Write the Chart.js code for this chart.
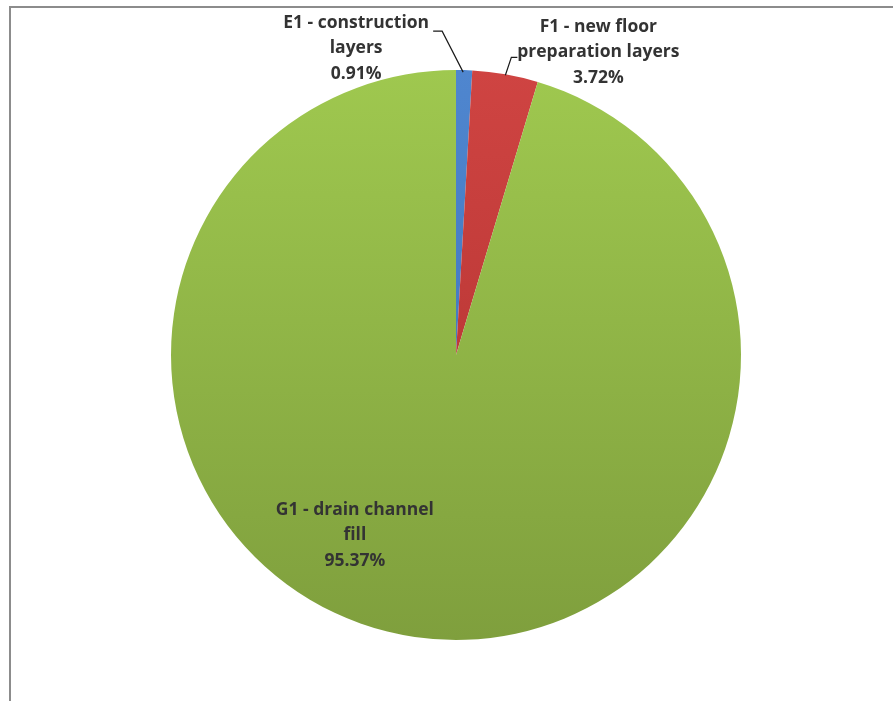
<!DOCTYPE html>
<html>
<head>
<meta charset="utf-8">
<script src="https://cdn.jsdelivr.net/npm/chart.js@4.4.1/dist/chart.umd.min.js"></script>
<style>
  body { margin: 0; background: #fff; }
  #frame {
    position: absolute; left: 9px; top: 6px; width: 884px; height: 695px;
    border-top: 2px solid #8c8c8c; border-left: 2px solid #8c8c8c;
  }
  #wrap { position: absolute; left: 0; top: 0; width: 893px; height: 701px; }
</style>
</head>
<body>
<div id="frame"></div>
<div id="wrap"><canvas id="pieChart" width="893" height="701"></canvas></div>
<script>
// data
const categories = ["E1 - construction layers", "F1 - new floor preparation layers", "G1 - drain channel fill"];
const percents = [0.91, 3.72, 95.37];
const labelLines = [
    ["E1 - construction", "layers", "0.91%"],
    ["F1 - new floor", "preparation layers", "3.72%"],
    ["G1 - drain channel", "fill", "95.37%"]
];

// colours: [top, bottom] of each slice gradient
const sliceColors = [
    ["#4f86cf", "#3a6fb5"],
    ["#cf4442", "#ad2f2d"],
    ["#9fc84f", "#7f9f3d"]
];

// where each label centre sits relative to the slice's outer mid point
const labelOffsets = [
    { dx: -108, dy: -22, inside: false },
    { dx: 93, dy: -22, inside: false },
    { dx: 0, dy: 0, inside: true }
];

function sliceGradient(context) {
    const i = context.dataIndex;
    const chart = context.chart;
    const area = chart.chartArea;
    if (!area) return sliceColors[i][0];
    const g = chart.ctx.createLinearGradient(0, area.top, 0, area.bottom);
    g.addColorStop(0, sliceColors[i][0]);
    g.addColorStop(1, sliceColors[i][1]);
    return g;
}

const labelPlugin = {
    id: "sliceLabels",
    afterDatasetsDraw(chart) {
        const ctx = chart.ctx;
        const arcs = chart.getDatasetMeta(0).data;
        ctx.save();
        ctx.font = "bold 17.5px 'Open Sans', Lato, sans-serif";
        ctx.fillStyle = "#333333";
        ctx.textAlign = "center";
        ctx.textBaseline = "middle";
        const lh = 25.5;

        arcs.forEach(function (arc, i) {
            const p = arc.getProps(["x", "y", "startAngle", "endAngle", "outerRadius"], true);
            const mid = (p.startAngle + p.endAngle) / 2;
            let cx, cy;
            if (labelOffsets[i].inside) {
                // inner label, placed like the original inside the big slice
                cx = p.x - 0.355 * p.outerRadius;
                cy = p.y + 0.632 * p.outerRadius;
            } else {
                const ox = p.x + Math.cos(mid) * p.outerRadius;
                const oy = p.y + Math.sin(mid) * p.outerRadius;
                cx = ox + labelOffsets[i].dx;
                cy = oy + labelOffsets[i].dy;

                // leader line
                ctx.strokeStyle = "#1a1a1a";
                ctx.lineWidth = 1.2;
                ctx.beginPath();
                if (i === 0) {
                    ctx.moveTo(cx + 77, cy - 17);
                    ctx.lineTo(cx + 86, cy - 17);
                    ctx.lineTo(ox - 1, oy + 2);
                } else {
                    ctx.moveTo(cx - 81, cy + 5);
                    ctx.lineTo(cx - 87, cy + 5);
                    ctx.lineTo(ox, oy + 1);
                }
                ctx.stroke();
            }
            const lines = labelLines[i];
            lines.forEach(function (t, k) {
                ctx.fillText(t, cx, cy + (k - (lines.length - 1) / 2) * lh);
            });
        });
        ctx.restore();
    }
};

new Chart(document.getElementById("pieChart"), {
    type: "pie",
    data: {
        labels: categories,
        datasets: [{
            data: percents,
            backgroundColor: sliceGradient,
            borderWidth: 0
        }]
    },
    options: {
        responsive: false,
        animation: false,
        layout: { padding: { top: 70, bottom: 61, left: 171, right: 152 } },
        plugins: {
            legend: { display: false },
            tooltip: { enabled: false }
        }
    },
    plugins: [labelPlugin]
});
</script>
</body>
</html>
